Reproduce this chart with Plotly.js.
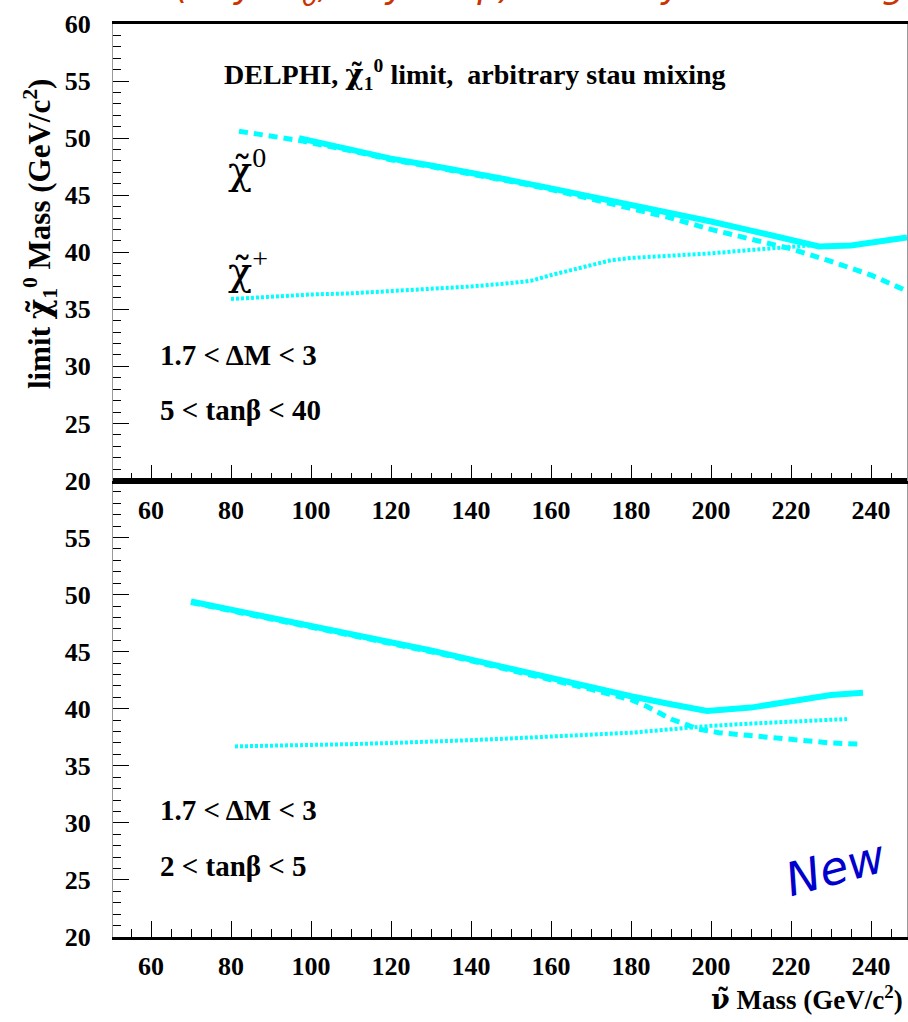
<!DOCTYPE html>
<html>
<head>
<meta charset="utf-8">
<script src="https://cdn.plot.ly/plotly-3.0.1.min.js"></script>
<style>
  html, body { margin: 0; padding: 0; background: #fff; }
  #plot { width: 908px; height: 1022px; }
</style>
</head>
<body>
<div id="plot"></div>
<script>
// ---- Upper panel: 5 < tanβ < 40 ----
const upSolidX  = [97, 110, 120, 130, 140, 150, 160, 170, 180, 190, 200, 210, 220, 227, 235, 242, 249];
const upSolidY  = [50.0, 49.0, 48.2, 47.6, 47.0, 46.3, 45.6, 44.9, 44.2, 43.4, 42.7, 41.9, 41.0, 40.5, 40.6, 40.9, 41.3];
const upDashX   = [82, 90, 97, 110, 120, 130, 140, 150, 160, 170, 180, 190, 200, 210, 220, 230, 240, 249];
const upDashY   = [50.6, 50.2, 49.8, 48.9, 48.1, 47.5, 46.9, 46.2, 45.5, 44.7, 43.9, 43.0, 42.0, 41.2, 40.3, 39.2, 38.0, 36.6];
const upDotX    = [80, 90, 100, 110, 120, 130, 140, 150, 155, 160, 170, 175, 180, 190, 200, 210, 220, 225];
const upDotY    = [35.9, 36.1, 36.3, 36.4, 36.6, 36.8, 37.0, 37.3, 37.5, 38.0, 38.9, 39.3, 39.5, 39.7, 39.9, 40.2, 40.5, 40.6];

// ---- Lower panel: 2 < tanβ < 5 ----
const loSolidX  = [70, 80, 90, 100, 110, 120, 130, 140, 150, 160, 170, 180, 190, 199, 210, 220, 230, 238];
const loSolidY  = [49.4, 48.7, 48.0, 47.3, 46.6, 45.9, 45.1, 44.3, 43.5, 42.6, 41.9, 41.1, 40.4, 39.8, 40.1, 40.7, 41.2, 41.4];
const loDashX   = [70, 80, 90, 100, 110, 120, 130, 140, 150, 160, 170, 180, 184, 190, 197, 202, 214, 230, 237];
const loDashY   = [49.3, 48.6, 47.9, 47.2, 46.5, 45.8, 45.0, 44.2, 43.4, 42.5, 41.7, 40.8, 40.2, 39.1, 38.2, 37.9, 37.5, 37.0, 36.9];
const loDotX    = [81, 90, 100, 110, 120, 130, 140, 150, 160, 170, 180, 190, 200, 210, 220, 234];
const loDotY    = [36.7, 36.75, 36.8, 36.9, 37.0, 37.1, 37.25, 37.4, 37.55, 37.7, 37.9, 38.2, 38.5, 38.7, 38.85, 39.1];

// Axis ticks
const xTickVals   = [60, 80, 100, 120, 140, 160, 180, 200, 220, 240];
const upYTickVals = [20, 25, 30, 35, 40, 45, 50, 55, 60];
const loYTickVals = [20, 25, 30, 35, 40, 45, 50, 55];

const CYAN = '#00ffff';
const SERIF = 'Liberation Serif, Times New Roman, serif';
// Greek letters with a combining tilde need one font holding both glyphs
const tilde = ch => '<span style="font-family:\'DejaVu Serif\'">' + ch + '\u0303</span>';

// plot-area pixel frame
const L = 113, R = 907, T = 24, B = 937;
const W = 908, H = 1022;
const px = v => (v - L) / (R - L);
const py = v => (B - v) / (B - T);

function line(x, y, xa, ya, width, dash) {
  return { x, y, xaxis: xa, yaxis: ya, type: 'scatter', mode: 'lines',
           line: { color: CYAN, width, dash }, hoverinfo: 'skip', showlegend: false };
}

const traces = [
  line(upDotX, upDotY, 'x2', 'y2', 4, '3px,2px'),
  line(upDashX, upDashY, 'x2', 'y2', 5, '9px,6px'),
  line(upSolidX, upSolidY, 'x2', 'y2', 6, 'solid'),
  line(loDotX, loDotY, 'x', 'y', 4, '3px,2px'),
  line(loDashX, loDashY, 'x', 'y', 5, '9px,6px'),
  line(loSolidX, loSolidY, 'x', 'y', 6, 'solid'),
];

const tickFont = { family: SERIF, size: 26, weight: 'bold', color: '#000' };

function xAxis(anchor) {
  return {
    anchor, range: [50.5, 249], tickmode: 'array', tickvals: xTickVals,
    ticks: 'inside', ticklen: 16, tickwidth: 1, tickcolor: '#000',
    minor: { tickmode: 'linear', tick0: 50, dtick: 5, ticks: 'inside', ticklen: 8, tickwidth: 1, tickcolor: '#000' },
    showline: true, linecolor: '#000', linewidth: 3, mirror: true,
    showgrid: false, zeroline: false, tickfont: tickFont, ticklabelstandoff: 4,
    fixedrange: true
  };
}
function yAxis(anchor, domain, vals) {
  return {
    anchor, domain, range: [20, 60], tickmode: 'array', tickvals: vals,
    ticks: 'inside', ticklen: 16, tickwidth: 1, tickcolor: '#000',
    minor: { tickmode: 'linear', tick0: 20, dtick: 1, ticks: 'inside', ticklen: 8, tickwidth: 1, tickcolor: '#000' },
    showline: true, linecolor: '#999', linewidth: 1, mirror: true,
    showgrid: false, zeroline: false, tickfont: tickFont, ticklabelstandoff: 16,
    fixedrange: true
  };
}

const boldText = (size) => ({ family: SERIF, size, weight: 'bold', color: '#000' });

function note(text, x, y, font, extra) {
  return Object.assign({ text, xref: 'paper', yref: 'paper', x: px(x), y: py(y),
    xanchor: 'left', yanchor: 'middle', showarrow: false, font }, extra || {});
}

const annotations = [
  note('(any m<sub>0</sub>, any tanβ) arbitrary stau mixing', 540, -11,
       { family: 'DejaVu Sans, sans-serif', size: 36, color: '#cc3300', style: 'italic' },
       { xanchor: 'center' }),
  note('DELPHI, ' + tilde('χ') + '<sub>1</sub><sup>0</sup> limit,  arbitrary stau mixing', 222, 74, boldText(28)),
  note(tilde('χ') + '<sup>0</sup>', 226, 168, { family: SERIF, size: 40, color: '#000' }),
  note(tilde('χ') + '<sup>+</sup>', 226, 268, { family: SERIF, size: 40, color: '#000' }),
  note('1.7 < ΔM < 3', 158, 355, boldText(29)),
  note('5 < tanβ < 40', 158, 410, boldText(29)),
  note('1.7 < ΔM < 3', 158, 810, boldText(29)),
  note('2 < tanβ < 5', 158, 866, boldText(29)),
  note('New', 835, 868, { family: 'DejaVu Sans, sans-serif', size: 46, color: '#0000cc', style: 'italic' },
       { xanchor: 'center', textangle: -15 }),
  note('limit ' + tilde('χ') + '<sub>1</sub><sup>0</sup> Mass (GeV/c<sup>2</sup>)', 40, 234, boldText(31),
       { xanchor: 'center', textangle: -90 }),
  note(tilde('ν') + ' Mass (GeV/c<sup>2</sup>)', 905, 998, boldText(27), { xanchor: 'right' }),
];

const layout = {
  width: W, height: H,
  margin: { l: L, r: W - R, t: T, b: H - B, pad: 0 },
  paper_bgcolor: '#fff', plot_bgcolor: '#fff',
  showlegend: false,
  xaxis: xAxis('y'),
  yaxis: yAxis('x', [0, 0.5], loYTickVals),
  xaxis2: xAxis('y2'),
  yaxis2: yAxis('x2', [0.5, 1], upYTickVals),
  annotations
};

Plotly.newPlot('plot', traces, layout, { staticPlot: true, displayModeBar: false });
</script>
</body>
</html>
